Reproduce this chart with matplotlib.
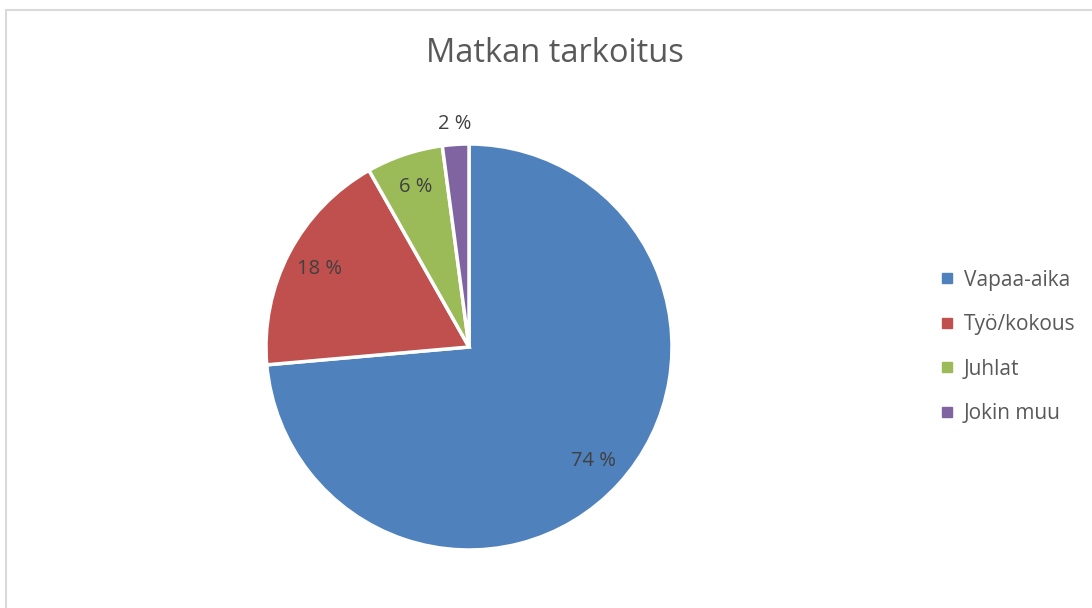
import numpy as np
import matplotlib.pyplot as plt
from matplotlib.patches import Rectangle
from matplotlib.lines import Line2D

plt.rcParams['font.family'] = ['Open Sans', 'DejaVu Sans']

categories = ['Vapaa-aika', 'Työ/kokous', 'Juhlat', 'Jokin muu']
shares = [73.6, 18.2, 6.1, 2.1]
colors = ['#4F81BD', '#C0504D', '#9BBB59', '#8064A2']
text_col = '#595959'

fig = plt.figure(figsize=(10.92, 6.08), dpi=100)

# light frame like the Excel chart area
fig.patches.append(Rectangle((6 / 1092, -0.1), 1.2, (608 - 10) / 608 + 0.1,
                             transform=fig.transFigure, fill=False,
                             edgecolor='#D9D9D9', lw=1.5))

ax = fig.add_axes([266 / 1092, 58 / 608, 406 / 1092, 406 / 608])
wedges, texts, autotexts = ax.pie(
    shares, colors=colors, startangle=90, counterclock=False,
    autopct=lambda p: '%d %%' % round(p), pctdistance=0.83,
    wedgeprops=dict(edgecolor='white', linewidth=2.5),
    textprops=dict(color='#404040', fontsize=14.5))
ax.set_xlim(-1, 1)
ax.set_ylim(-1, 1)
ax.set_aspect('equal')

# small slice label goes outside the pie
w = wedges[-1]
th = np.deg2rad((w.theta1 + w.theta2) / 2)
autotexts[-1].set_position((1.1 * np.cos(th), 1.1 * np.sin(th)))

fig.text(555 / 1092, 1 - 54 / 608, 'Matkan tarkoitus', ha='center', va='center',
         fontsize=23.5, color=text_col)

handles = [Line2D([], [], ls='', marker='s', markersize=7, color=c) for c in colors]
leg = fig.legend(handles, categories, loc='center left',
                 bbox_to_anchor=(921 / 1092, 1 - 347 / 608), frameon=False,
                 fontsize=15, labelspacing=1.13, handlelength=0.7,
                 handletextpad=0.45, labelcolor=text_col)

fig.savefig('out.png', dpi=100)
